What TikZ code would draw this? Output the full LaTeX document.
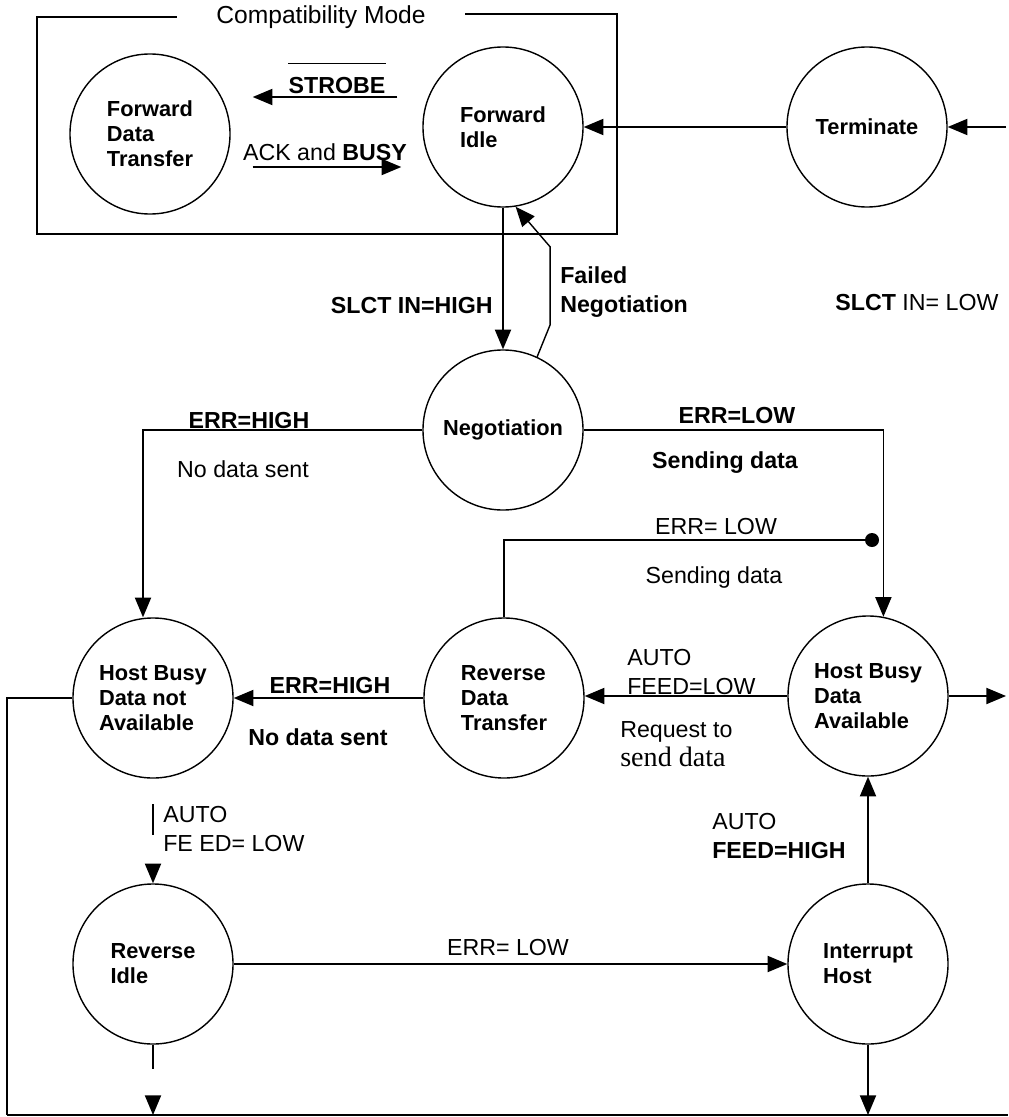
\documentclass[tikz,border=0pt]{standalone}
\usepackage{fontspec}
\setmainfont{Liberation Sans}
\newfontfamily\serifface{Liberation Serif}
\usetikzlibrary{arrows.meta, positioning, calc}

\newcommand\statefont{\fontsize{15.5}{17.7}\selectfont\bfseries}
\newcommand\lblfont{\fontsize{16.5}{20}\selectfont}

\tikzset{
  statenode/.style={draw, circle, line width=1pt, minimum size=4cm, inner sep=0pt, align=left, font=\statefont},
  lbl/.style={inner sep=0pt, align=left, font=\lblfont},
  bl/.style={inner sep=0pt, align=left, font=\lblfont\bfseries},
  wire/.style={line width=1pt},
  conn/.style={line width=1pt, -{Triangle[length=14pt,width=11.5pt]}},
  brokenA/.style={dash pattern=on 0pt off 18pt on 22pt off 80pt},
  brokenB/.style={dash pattern=on 17pt off 80pt},
}

\begin{document}
\begin{tikzpicture}[x=0.025cm, y=-0.025cm]
    \useasboundingbox (0,0) rectangle (1008,1117);

    % States
    \node[statenode] (fdt) at (150,134) {Forward\\Data\\Transfer};
    \node[statenode] (fi) at (503,127) {Forward\\Idle};
    \node[statenode] (term) at (867,127) {Terminate};
    \node[statenode] (neg) at (503,430) {Negotiation};
    \node[statenode] (hbna) at (153,698) {Host Busy\\Data not\\Available};
    \node[statenode] (rdt) at (504,698) {Reverse\\Data\\Transfer};
    \node[statenode] (hbda) at (868,696) {Host Busy\\Data\\Available};
    \node[statenode] (ri) at (153,964) {Reverse\\Idle};
    \node[statenode] (ih) at (868,964) {Interrupt\\Host};
    \node[circle, fill, inner sep=0pt, minimum size=0.35cm] (dot) at (872,540) {};

    % Free ends at the edge of the page
    \coordinate (redge) at (1006,0);
    \coordinate (bl) at (7,1115);
    \coordinate (br) at (1008,1115);

    % Compatibility Mode frame
    \node[lbl, font=\fontsize{17.5}{20}\selectfont, inner xsep=28pt] (cm) at (321,17) {Compatibility Mode};
    \draw[line width=0.8pt] (cm.west) -- (37,17) -- (37,234) -- (617,234) -- (617,14) -- (cm.east |- 0,14);

    % Compatibility mode handshake
    \node[bl] (strobe) at (337,86) {STROBE};
    \draw[wire] ([yshift=10pt]strobe.north west) -- ([yshift=10pt]strobe.north east);
    \draw[conn] ($(fi.west)+(-25,-30)$) -- ($(fdt.east)+(22,-37)$);
    \node[lbl] (ack) at (325,152) {ACK and \textbf{BUSY}};
    \draw[conn] ($(fdt.east)+(22,33)$) -- ($(fi.west)+(-21,40)$);

    % Terminate
    \draw[conn] (term.west) -- (fi.east);
    \draw[conn] (term.east -| redge) -- (term.east);
    \node[lbl] (slctlow) at (917,303) {\textbf{SLCT} IN= LOW};

    % Negotiation
    \draw[conn] (fi.south) -- (neg.north);
    \node[bl, anchor=east] (slcthigh) at (493,306) {SLCT IN=HIGH};
    \draw[conn] (neg.65) -- ++(13,-32) -- ++(0,-78) -- (fi.-81);
    \node[bl, anchor=west] (failed) at (560,292) {Failed\\Negotiation};

    \draw[conn] (neg.west) -| ($(hbna.north)+(-10,0)$);
    \node[bl] (errh1) at (249,421) {ERR=HIGH};
    \node[lbl] (nods1) at (243,469) {No data sent};

    \draw[conn] (neg.east) -| (hbda.79);
    \node[bl] (errl1) at (737,416) {ERR=LOW};
    \node[bl] (send1) at (725,463) {Sending data};

    % Reverse data transfer
    \draw[wire] (rdt.north) |- (dot);
    \node[lbl] (errl2) at (716,527) {ERR= LOW};
    \node[lbl] (send2) at (714,577) {Sending data};

    \draw[conn] (hbda.west) -- (rdt.east |- hbda.west);
    \node[lbl, anchor=west] (feedlow) at (627,672) {AUTO\\FEED=LOW};
    \node[lbl, anchor=west] (req) at (620,732) {Request to};
    \node[lbl, font=\serifface\fontsize{20}{22}\selectfont, below=3pt of req.south west, anchor=north west] (snd) {send data};

    \draw[conn] (rdt.west) -- (hbna.east);
    \node[bl] (errh2) at (330,686) {ERR=HIGH};
    \node[bl] (nods2) at (318,737) {No data sent};

    \draw[conn] (hbda.east) -- (hbda.east -| redge);

    % Reverse idle
    \draw[conn, brokenA] (hbna.south) -- (ri.north);
    \node[lbl, anchor=west] (feedlow2) at (163,829) {AUTO\\FE ED= LOW};

    \draw[conn] (ri.east) -- (ih.west);
    \node[lbl] (errl3) at (508,948) {ERR= LOW};

    \draw[conn] (ih.north) -- (hbda.south);
    \node[lbl, anchor=west] (feedhigh) at (712,836) {AUTO\\\textbf{FEED=HIGH}};

    % Return lines along the bottom
    \draw[wire] (hbna.west) -| (bl);
    \draw[line width=2pt] (bl) -- (br);
    \draw[conn] (ih.south) -- (ih.south |- br);
    \draw[conn, brokenB] (ri.south) -- (ri.south |- bl);
\end{tikzpicture}
\end{document}
